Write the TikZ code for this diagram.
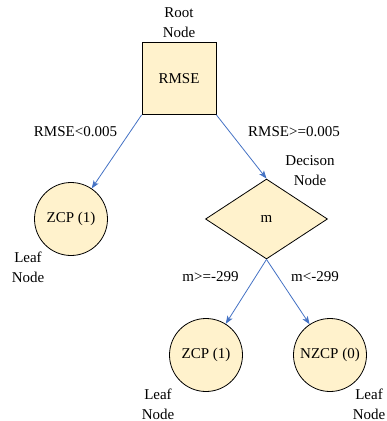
\documentclass[tikz,border=0pt]{standalone}
\usepackage{fontspec}
\setmainfont{Liberation Serif}
\newfontfamily\treefont{Liberation Serif}
\usetikzlibrary{shapes.geometric,arrows.meta}
\definecolor{nodefill}{HTML}{FFF2CC}
\definecolor{edgeblue}{HTML}{4472C4}
\tikzset{
  every node/.style={font=\treefont\fontsize{15}{20}\selectfont},
  box/.style={draw=black, line width=0.8pt, fill=nodefill, minimum width=74pt, minimum height=72pt, inner sep=0pt},
  leaf/.style={draw=black, line width=0.8pt, fill=nodefill, circle, minimum size=73pt, inner sep=0pt},
  choice/.style={draw=black, line width=0.8pt, fill=nodefill, diamond, minimum width=122pt, minimum height=80pt, inner sep=0pt},
  tag/.style={align=center, inner sep=0pt},
  arr/.style={draw=edgeblue, line width=0.8pt, -{Stealth[length=8pt,width=6pt,inset=2pt]}}
}
\begin{document}
\begin{tikzpicture}[x=1pt,y=-1pt]
  \useasboundingbox (0,0) rectangle (387,421);
  % tree nodes
  \node[box] (root) at (179,78.5) {RMSE};
  \node[leaf] (leafA) at (71,219) {ZCP (1)};
  \node[choice] (dec) at (266.5,219) {m};
  \node[leaf] (leafB) at (206,355) {ZCP (1)};
  \node[leaf] (leafC) at (330,355) {NZCP (0)};
  % captions
  \node[tag] (rootcap) at (179,23) {Root\\Node};
  \node[tag] (deccap) at (310,171) {Decison\\Node};
  \node[tag] (leafAcap) at (28,267) {Leaf\\Node};
  \node[tag] (leafBcap) at (158,404) {Leaf\\Node};
  \node[tag] (leafCcap) at (369,404) {Leaf\\Node};
  % branch conditions
  \node[tag] (c1) at (75.5,131.5) {RMSE<0.005};
  \node[tag] (c2) at (294,131.5) {RMSE>=0.005};
  \node[tag] (c3) at (210.5,277) {m>=-299};
  \node[tag] (c4) at (315,277) {m<-299};
  % branches
  \draw[arr] (root.south west) -- (leafA);
  \draw[arr] (root.south east) -- (dec.north);
  \draw[arr] (dec.south) -- (leafB);
  \draw[arr] (dec.south) -- (leafC);
\end{tikzpicture}
\end{document}
